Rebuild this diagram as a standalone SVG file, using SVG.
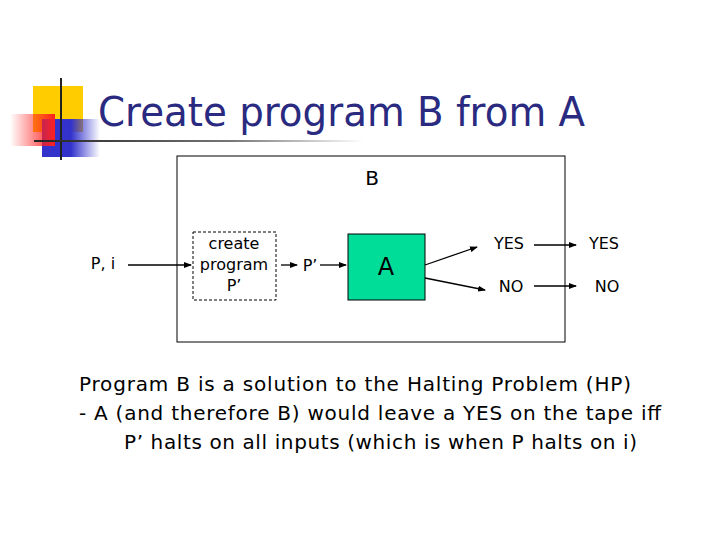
<svg xmlns="http://www.w3.org/2000/svg" width="720" height="540" viewBox="0 0 720 540">
<defs>
<marker id="ah" markerWidth="8" markerHeight="6" refX="7" refY="3" orient="auto" markerUnits="userSpaceOnUse"><path d="M0,0 L8,3 L0,6 Z" fill="#000"/></marker>
<linearGradient id="gb" x1="0" x2="1"><stop offset="0.5" stop-color="#3333cc"/><stop offset="1" stop-color="#3333cc" stop-opacity="0"/></linearGradient>
<linearGradient id="gr" x1="1" x2="0"><stop offset="0" stop-color="#ff2020"/><stop offset="1" stop-color="#ff2020" stop-opacity="0"/></linearGradient>
<linearGradient id="gl" x1="0" x2="1"><stop offset="0" stop-color="#222"/><stop offset="0.6" stop-color="#777"/><stop offset="1" stop-color="#fff"/></linearGradient>
</defs>
<style>
text{font-family:"DejaVu Sans",Tahoma,sans-serif;fill:#000}
.t{font-size:16px}
.b{font-size:20px}
.c{stroke:#000;stroke-width:1.3;fill:none;marker-end:url(#ah)}
</style>
<rect width="720" height="540" fill="#fff"/>
<g id="logo">
<rect x="33" y="86" width="50" height="46" fill="#ffcc00"/>
<rect x="42" y="119" width="58" height="38" fill="url(#gb)"/>
<rect x="10" y="114" width="45" height="32" fill="url(#gr)"/>
<line x1="61" y1="78" x2="61" y2="160" stroke="#222" stroke-width="2"/>
<rect x="34" y="140" width="330" height="2" fill="url(#gl)"/>
</g>
<text x="98" y="126" font-size="40" textLength="487" lengthAdjust="spacingAndGlyphs" style="fill:#2a2a80">Create program B from A</text>
<g id="B"><rect x="177" y="156" width="388" height="186" fill="none" stroke="#000" stroke-width="1"/><text class="b" x="372" y="185" text-anchor="middle">B</text></g>
<g id="create"><rect x="193" y="232" width="83" height="68" fill="none" stroke="#000" stroke-dasharray="3,2"/>
<text class="t" x="234" y="249" text-anchor="middle">create</text><text class="t" x="234" y="270" text-anchor="middle">program</text><text class="t" x="234" y="291" text-anchor="middle">P’</text></g>
<g id="A"><rect x="348" y="234" width="77" height="66" fill="#00dd99" stroke="#000"/><text x="386" y="275" font-size="24" text-anchor="middle">A</text></g>
<g id="labels">
<text class="t" x="103" y="269" text-anchor="middle">P, i</text>
<text class="t" x="310" y="271" text-anchor="middle">P’</text>
<text class="t" x="509" y="249" text-anchor="middle">YES</text>
<text class="t" x="511" y="292" text-anchor="middle">NO</text>
<text class="t" x="604" y="249" text-anchor="middle">YES</text>
<text class="t" x="607" y="292" text-anchor="middle">NO</text>
</g>
<g id="connectors">
<line class="c" x1="128" y1="265" x2="191" y2="265"/>
<line class="c" x1="281" y1="265" x2="297" y2="265"/>
<line class="c" x1="320" y1="265" x2="346" y2="265"/>
<line class="c" x1="425" y1="265" x2="477" y2="247"/>
<line class="c" x1="425" y1="278" x2="485" y2="290"/>
<line class="c" x1="534" y1="245" x2="576" y2="245"/>
<line class="c" x1="534" y1="286" x2="576" y2="286"/>
</g>
<g id="text">
<text x="79" y="391" font-size="20" textLength="552" lengthAdjust="spacing">Program B is a solution to the Halting Problem (HP)</text>
<text x="79" y="420" font-size="20" textLength="582" lengthAdjust="spacing">- A (and therefore B) would leave a YES on the tape iff</text>
<text x="124" y="449" font-size="20" textLength="513" lengthAdjust="spacing">P’ halts on all inputs (which is when P halts on i)</text>
</g>
</svg>
